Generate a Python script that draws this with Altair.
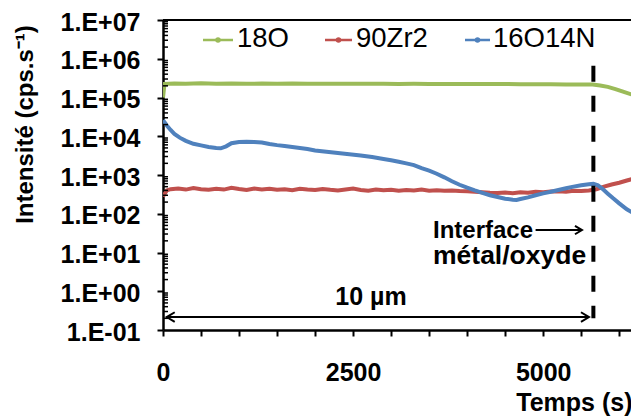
import altair as alt
import pandas as pd

# ---------------- data ----------------
series_names = ["18O", "90Zr2", "16O14N"]
series_colors = ["#9BBB59", "#C0504D", "#4F81BD"]

t_18O = [0, 20, 150, 300, 500, 700, 900, 1100, 1300, 1500, 1700, 1900, 2100, 2300,
         2500, 2700, 2900, 3100, 3300, 3500, 3700, 3900, 4100, 4300, 4500, 4700,
         4900, 5100, 5300, 5500, 5650, 5750, 5850, 5950, 6050, 6150, 6260]
v_18O = [1.0e5, 2.25e5, 2.3e5, 2.28e5, 2.32e5, 2.27e5, 2.3e5, 2.26e5, 2.29e5, 2.27e5,
         2.3e5, 2.26e5, 2.28e5, 2.25e5, 2.27e5, 2.26e5, 2.25e5, 2.24e5, 2.26e5, 2.24e5,
         2.23e5, 2.24e5, 2.22e5, 2.23e5, 2.22e5, 2.21e5, 2.2e5, 2.2e5, 2.18e5, 2.17e5,
         2.15e5, 2.05e5, 1.88e5, 1.65e5, 1.42e5, 1.22e5, 1.05e5]

t_90Zr2 = [0, 50, 100, 200, 300, 400, 500, 600, 700, 800, 900, 1000, 1100, 1200, 1300,
           1400, 1500, 1600, 1700, 1800, 1900, 2000, 2100, 2200, 2300, 2400, 2500, 2600,
           2700, 2800, 2900, 3000, 3100, 3200, 3300, 3400, 3500, 3600, 3700, 3800, 3900,
           4000, 4100, 4200, 4300, 4400, 4500, 4600, 4700, 4800, 4900, 5000, 5100, 5200,
           5300, 5400, 5500, 5600, 5700, 5800, 5900, 6000, 6100, 6200, 6260]
v_90Zr2 = [280, 400, 430, 445, 420, 460, 430, 415, 440, 420, 470, 435, 410, 450, 425,
           440, 415, 430, 405, 440, 420, 410, 435, 415, 400, 425, 445, 410,
           395, 420, 405, 415, 395, 410, 400, 420, 395, 405, 390, 400, 385,
           380, 370, 360, 350, 345, 355, 340, 360, 350, 370, 360, 375, 380,
           370, 390, 385, 400, 430, 500, 570, 630, 720, 820, 880]

t_16O14N = [0, 20, 50, 100, 150, 220, 300, 400, 500, 600, 700, 760, 830, 900, 1000,
            1100, 1200, 1300, 1400, 1500, 1600, 1700, 1800, 1900, 2000, 2150, 2300,
            2450, 2600, 2750, 2900, 3000, 3100, 3200, 3300, 3400, 3500, 3600, 3700,
            3800, 3900, 4000, 4100, 4200, 4300, 4400, 4500, 4600, 4650, 4700, 4800,
            4900, 5000, 5100, 5200, 5300, 5400, 5500, 5600, 5660, 5720, 5780, 5850,
            5920, 6000, 6100, 6180, 6260]
v_16O14N = [2.6e4, 2.3e4, 1.9e4, 1.45e4, 1.15e4, 9.2e3, 7.6e3, 6.4e3, 5.8e3, 5.3e3,
            5.0e3, 4.9e3, 5.5e3, 6.6e3, 7.1e3, 7.2e3, 7.1e3, 6.9e3, 6.3e3, 5.9e3,
            5.6e3, 5.3e3, 5.0e3, 4.7e3, 4.3e3, 4.0e3, 3.7e3, 3.45e3, 3.2e3, 2.9e3,
            2.6e3, 2.4e3, 2.2e3, 2.0e3, 1.8e3, 1.5e3, 1.3e3, 1.08e3, 870, 690, 560,
            470, 400, 345, 300, 270, 245, 230, 228, 240, 265, 300, 335, 370, 410,
            455, 500, 545, 580, 590, 540, 440, 330, 250, 185, 130, 105, 92]

x_ticks = [0, 500, 1000, 1500, 2000, 2500, 3000, 3500, 4000, 4500, 5000, 5500, 6000]
y_ticks = [0.1, 1, 10, 100, 1000, 1e4, 1e5, 1e6, 1e7]
y_minor = [m * 10.0 ** e for e in range(-1, 7) for m in range(2, 10)]

# annotation anchors (data coordinates)
interface_t = 5660
dash_top, dash_bottom = 6.6e5, 0.2
span_start, span_end, span_y = 49, 5602, 0.216
span_label_t, span_label_y = 2735, 0.44
int_arrow_start, int_arrow_end, int_arrow_y = 4900, 5510, 38

FONT = "Liberation Sans"
W, H = 476, 310

x_scale = alt.Scale(domain=[0, 6260], nice=False, zero=False)
y_scale = alt.Scale(type="log", domain=[0.1, 1e7], nice=False)

x_axis = alt.Axis(
    values=x_ticks, format="d",
    labelExpr="datum.value % 2500 == 0 ? datum.label : ''",
    labelOverlap=False, labelFlush=False,
    tickSize=6, tickWidth=2, tickColor="black",
    domainColor="black", domainWidth=2.5,
    labelFont=FONT, labelFontSize=25, labelFontWeight="bold", labelColor="black",
    labelPadding=24,
    title="Temps (s)", titleFont=FONT, titleFontSize=25, titleFontWeight="bold",
    titleColor="black", titleX=469, titleY=80, titleAlign="right",
    titleBaseline="alphabetic", grid=False,
)
y_axis = alt.Axis(
    values=y_ticks,
    labelExpr="'1.E' + (datum.value >= 1 ? '+' : '-') + "
              "format(abs(round(log(datum.value)/LN10)), '02d')",
    labelOverlap=False,
    tickSize=6, tickWidth=2, tickColor="black",
    domainColor="black", domainWidth=2.5,
    labelFont=FONT, labelFontSize=25, labelFontWeight="bold", labelColor="black",
    labelPadding=17, labelOffset=2,
    title="Intensité (cps.s⁻¹)", titleFont=FONT, titleFontSize=24,
    titleFontWeight="bold", titleColor="black", titleAngle=270,
    titleX=-138, titleY=104, titleAlign="center", titleBaseline="middle",
    grid=False,
)


def X(field):
    return alt.X(field, type="quantitative", scale=x_scale, axis=x_axis)


def Y(field):
    return alt.Y(field, type="quantitative", scale=y_scale, axis=y_axis)


layers = []
for name, col, ts, vs in zip(series_names, series_colors,
                             [t_18O, t_90Zr2, t_16O14N],
                             [v_18O, v_90Zr2, v_16O14N]):
    d = pd.DataFrame({"t": ts, "v": vs})
    layers.append(
        alt.Chart(d).mark_line(strokeWidth=4, color=col, clip=True).encode(
            x=X("t"), y=Y("v"))
    )

# minor ticks inside the y axis
minor = alt.Chart(pd.DataFrame({"m": y_minor})).mark_rule(
    color="black", strokeWidth=1.5
).encode(x=alt.value(0), x2=alt.value(5), y=Y("m"))

one = pd.DataFrame({"a": [0]})

# top frame line
top_line = alt.Chart(one).mark_rule(color="black", strokeWidth=2).encode(
    x=alt.value(0), x2=alt.value(W), y=alt.value(0))

# interface dashed line
dashed = alt.Chart(pd.DataFrame({"t": [interface_t], "y1": [dash_top], "y2": [dash_bottom]})
                   ).mark_rule(color="black", strokeWidth=4, strokeDash=[16, 14]).encode(
    x=X("t"), y=Y("y1"), y2="y2:Q")

right_head = "M-1,-0.6L0,0L-1,0.6"
left_head = "M1,-0.6L0,0L1,0.6"

# 10 µm double arrow
span_df = pd.DataFrame({"t1": [span_start], "t2": [span_end], "y": [span_y]})
arrow_line = alt.Chart(span_df).mark_rule(color="black", strokeWidth=2).encode(
    x=X("t1"), x2="t2:Q", y=Y("y"))
arrow_r = alt.Chart(span_df).mark_point(
    shape=right_head, size=256, filled=False, color="black", strokeWidth=2, opacity=1
).encode(x=X("t2"), y=Y("y"))
arrow_l = alt.Chart(span_df).mark_point(
    shape=left_head, size=256, filled=False, color="black", strokeWidth=2, opacity=1
).encode(x=X("t1"), y=Y("y"))
label_10 = alt.Chart(pd.DataFrame({"t": [span_label_t], "y": [span_label_y]})).mark_text(
    text="10 µm", font=FONT, fontSize=25, fontWeight="bold", color="black",
    align="center", baseline="alphabetic"
).encode(x=X("t"), y=Y("y"))

# Interface annotation
txt_int = alt.Chart(one).mark_text(
    text="Interface", font=FONT, fontSize=24, fontWeight="bold", color="black",
    align="left", baseline="alphabetic"
).encode(x=alt.value(270), y=alt.value(217.5))
txt_met = alt.Chart(one).mark_text(
    text="métal/oxyde", font=FONT, fontSize=26.5, fontWeight="bold", color="black",
    align="left", baseline="alphabetic"
).encode(x=alt.value(270), y=alt.value(244))
int_df = pd.DataFrame({"t1": [int_arrow_start], "t2": [int_arrow_end], "y": [int_arrow_y]})
int_line = alt.Chart(int_df).mark_rule(color="black", strokeWidth=2).encode(
    x=X("t1"), x2="t2:Q", y=Y("y"))
int_head = alt.Chart(int_df).mark_point(
    shape=right_head, size=196, filled=False, color="black", strokeWidth=2, opacity=1
).encode(x=X("t2"), y=Y("y"))

# manual legend
legend_layers = []
leg_line = [(40, 70), (162, 189), (302, 327)]
leg_text = [74, 193, 330]
for name, col, (x1, x2), tx in zip(series_names, series_colors, leg_line, leg_text):
    legend_layers.append(alt.Chart(one).mark_rule(color=col, strokeWidth=2.5).encode(
        x=alt.value(x1), x2=alt.value(x2), y=alt.value(20)))
    legend_layers.append(alt.Chart(one).mark_point(
        color=col, filled=True, size=30, opacity=1, shape="circle").encode(
        x=alt.value((x1 + x2) / 2), y=alt.value(20)))
    legend_layers.append(alt.Chart(one).mark_text(
        text=name, font=FONT, fontSize=27.5, fontWeight="normal", color="black",
        align="left", baseline="middle").encode(x=alt.value(tx), y=alt.value(19)))

chart = alt.layer(
    *layers, minor, top_line, dashed, arrow_line, arrow_r, arrow_l, label_10,
    txt_int, txt_met, int_line, int_head, *legend_layers
).properties(
    width=W, height=H,
    autosize=alt.AutoSizeParams(type="none"),
    padding={"left": 155, "top": 12, "right": -8, "bottom": 88},
).configure(background="white").configure_view(stroke=None)

chart.save("out.html", embed_options={"renderer": "svg", "actions": False})
